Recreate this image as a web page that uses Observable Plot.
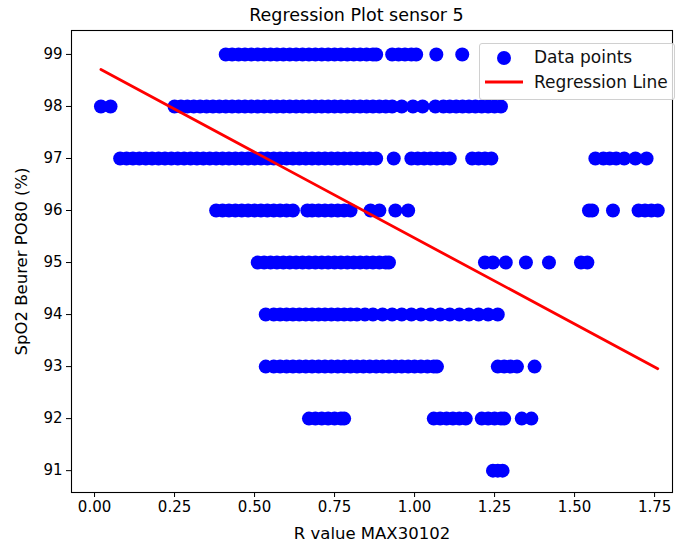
<!DOCTYPE html>
<html>
<head>
<meta charset="utf-8">
<script src="https://cdn.jsdelivr.net/npm/d3@7"></script>
<script src="https://cdn.jsdelivr.net/npm/@observablehq/plot@0.6"></script>
<style>
  html, body { margin: 0; padding: 0; background: #fff; }
  #wrap { position: relative; width: 676px; height: 546px; font-family: "DejaVu Sans", sans-serif; }
  #title { position: absolute; left: 56px; width: 601px; top: 5px; text-align: center; font-size: 17.5px; color: #000; }
  #legend { position: absolute; left: 479px; top: 43px; width: 196px; height: 57px; box-sizing: border-box;
            border: 1px solid #d0d0d0; border-radius: 3px; background: rgba(255,255,255,0.8); font-size: 17px; }
  #legend .row { position: absolute; left: 0; height: 20px; width: 100%; }
  #legend .row span { position: absolute; left: 54px; top: 0; line-height: 20px; color: #111; white-space: nowrap; }
  #legend svg { position: absolute; left: 4px; top: 0; }
</style>
</head>
<body>
<div id="wrap">
  <div id="title">Regression Plot sensor 5</div>
  <div id="chart"></div>
  <div id="legend">
    <div class="row" style="top:3px"><svg width="44" height="20"><circle cx="20" cy="11" r="7" fill="#0000ff"></circle></svg><span>Data points</span></div>
    <div class="row" style="top:28px"><svg width="44" height="20"><line x1="1" x2="39" y1="10" y2="10" stroke="#ff0000" stroke-width="2.8"></line></svg><span>Regression Line</span></div>
  </div>
</div>
<script>
// SpO2 levels (y) and R values (x), one array per level
const x99 = [0.41,0.43,0.45,0.47,0.49,0.51,0.53,0.55,0.57,0.59,0.61,0.63,0.65,0.67,0.69,0.71,0.73,0.75,0.77,0.79,0.81,0.83,0.85,0.87,0.88,0.93,0.95,0.97,0.99,1.005,1.068,1.149];
const x98 = [0.02,0.05,0.25,0.27,0.29,0.31,0.33,0.35,0.37,0.39,0.41,0.43,0.45,0.47,0.49,0.51,0.53,0.55,0.57,0.59,0.61,0.63,0.65,0.67,0.69,0.71,0.73,0.75,0.77,0.79,0.81,0.83,0.85,0.87,0.89,0.91,0.93,0.96,0.995,1.025,1.065,1.09,1.11,1.13,1.15,1.17,1.19,1.21,1.23,1.25,1.27];
const x97 = [0.08,0.10,0.12,0.14,0.16,0.18,0.20,0.22,0.24,0.26,0.28,0.30,0.32,0.34,0.36,0.38,0.40,0.42,0.44,0.46,0.48,0.50,0.52,0.54,0.56,0.58,0.60,0.62,0.64,0.66,0.68,0.70,0.72,0.74,0.76,0.78,0.80,0.82,0.84,0.86,0.88,0.935,0.99,1.01,1.03,1.05,1.07,1.09,1.11,1.18,1.20,1.22,1.24,1.565,1.59,1.61,1.63,1.655,1.69,1.725];
const x96 = [0.38,0.40,0.42,0.44,0.46,0.48,0.50,0.52,0.54,0.56,0.58,0.60,0.62,0.665,0.68,0.70,0.72,0.74,0.76,0.78,0.80,0.8625,0.89,0.94,0.98,1.545,1.555,1.62,1.70,1.72,1.74,1.76];
const x95 = [0.51,0.53,0.55,0.57,0.59,0.61,0.63,0.65,0.67,0.69,0.71,0.73,0.75,0.77,0.79,0.81,0.83,0.85,0.87,0.89,0.91,0.92,1.22,1.245,1.285,1.348,1.42,1.52,1.54];
const x94 = [0.535,0.56,0.58,0.60,0.62,0.64,0.66,0.68,0.70,0.72,0.74,0.76,0.78,0.80,0.82,0.845,0.87,0.90,0.93,0.96,0.99,1.02,1.05,1.08,1.11,1.14,1.17,1.20,1.23,1.26];
const x93 = [0.535,0.56,0.58,0.60,0.62,0.64,0.66,0.68,0.70,0.72,0.74,0.76,0.78,0.80,0.82,0.84,0.86,0.88,0.90,0.92,0.94,0.96,0.98,1.00,1.02,1.04,1.06,1.07,1.26,1.28,1.30,1.32,1.375];
const x92 = [0.67,0.69,0.71,0.73,0.75,0.77,0.78,1.06,1.08,1.10,1.12,1.14,1.16,1.21,1.23,1.25,1.27,1.28,1.335,1.365];
const x91 = [1.245,1.26,1.275];

const levels = [99, 98, 97, 96, 95, 94, 93, 92, 91];
const rowsX = [x99, x98, x97, x96, x95, x94, x93, x92, x91];

// Regression line end points
const regX = [0.02, 1.76];
const regY = [98.71, 92.96];

const xTicks = [0, 0.25, 0.5, 0.75, 1.0, 1.25, 1.5, 1.75];
const yTicks = [91, 92, 93, 94, 95, 96, 97, 98, 99];

const points = [];
levels.forEach((lv, i) => rowsX[i].forEach(x => points.push({x, y: lv})));
const reg = regX.map((x, i) => ({x, y: regY[i]}));

const chart = Plot.plot({
  width: 676,
  height: 546,
  marginTop: 30,
  marginBottom: 54,
  marginLeft: 71,
  marginRight: 4,
  style: {fontFamily: "DejaVu Sans, sans-serif", fontSize: "15px", color: "#000", background: "#fff"},
  x: {domain: [-0.072, 1.806]},
  y: {domain: [90.58, 99.46]},
  marks: [
    Plot.dot(points, {x: "x", y: "y", r: 7, fill: "#0000ff", stroke: "none"}),
    Plot.line(reg, {x: "x", y: "y", stroke: "#ff0000", strokeWidth: 2.8}),
    Plot.frame({stroke: "#000", strokeWidth: 1.1}),
    Plot.axisX({ticks: xTicks, tickFormat: d3.format(".2f"), tickSize: 5, tickPadding: 4, fontSize: 15, label: null}),
    Plot.axisX({ticks: [], label: "R value MAX30102", labelAnchor: "center", labelArrow: "none", labelOffset: 46, fontSize: 16.5}),
    Plot.axisY({ticks: yTicks, tickFormat: d3.format("d"), tickSize: 5, tickPadding: 4, fontSize: 15, label: null}),
    Plot.axisY({ticks: [], label: "SpO2 Beurer PO80 (%)", labelAnchor: "center", labelArrow: "none", labelOffset: 56, fontSize: 16.5})
  ]
});
document.getElementById("chart").appendChild(chart);
</script>
</body>
</html>
